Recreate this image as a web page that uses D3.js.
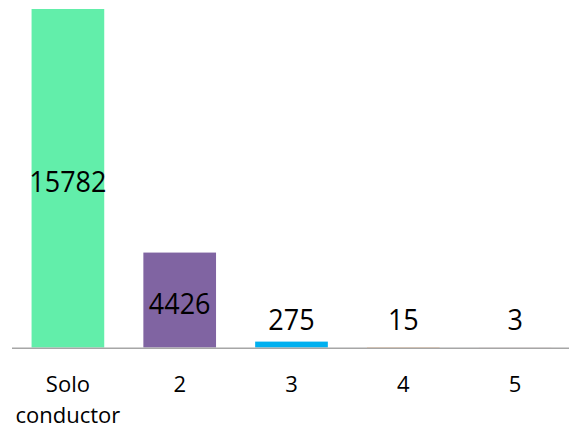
<!DOCTYPE html>
<html><head><meta charset="utf-8">
<script src="https://cdn.jsdelivr.net/npm/d3@7"></script>
<style>body{margin:0;background:#fff;}svg{display:block;}</style>
</head><body>
<svg id="c" width="569" height="432"></svg>
<script>
const categories = ["Solo\nconductor", "2", "3", "4", "5"];
const values = [15782, 4426, 275, 15, 3];
const colors = ["#62EEAA", "#8064A2", "#00B0F0", "#F79646", "#C0504D"];

const svg = d3.select("#c");
const baseY = 347.5, topY = 9;
const x = d3.scaleBand().domain(categories).range([12, 571]).paddingInner(0.35).paddingOuter(0.175);
const y = d3.scaleLinear().domain([0, 15782]).range([baseY, topY]);

svg.selectAll("rect.bar").data(values).join("rect")
  .attr("class", "bar")
  .attr("x", (d, i) => x(categories[i]))
  .attr("width", x.bandwidth())
  .attr("y", d => y(d))
  .attr("height", d => baseY - y(d))
  .attr("fill", (d, i) => colors[i]);

// axis line
svg.append("line").attr("x1", 12).attr("x2", 569).attr("y1", baseY + 0.75).attr("y2", baseY + 0.75)
  .attr("stroke", "#A6A6A6").attr("stroke-width", 1.5);

// value labels
svg.selectAll("text.val").data(values).join("text")
  .attr("class", "val")
  .attr("transform", (d, i) => {
    const cx = x(categories[i]) + x.bandwidth() / 2;
    const cy = Math.min((y(d) + baseY) / 2 + 2.5, baseY - 29);
    return `translate(${cx},${cy}) scale(0.93,1)`;
  })
  .attr("text-anchor", "middle")
  .attr("dominant-baseline", "central")
  .attr("font-family", "Open Sans, sans-serif")
  .attr("font-size", 29)
  .attr("fill", "#000")
  .text(d => d);

// category labels
const cl = svg.selectAll("text.cat").data(categories).join("text")
  .attr("class", "cat")
  .attr("x", d => x(d) + x.bandwidth() / 2)
  .attr("y", 392)
  .attr("text-anchor", "middle")
  .attr("font-family", "Open Sans, sans-serif")
  .attr("font-size", 22)
  .attr("fill", "#000");
cl.each(function(d) {
  const lines = d.split("\n");
  const t = d3.select(this);
  lines.forEach((l, j) => {
    t.append("tspan").attr("x", t.attr("x")).attr("dy", j === 0 ? 0 : 31).text(l);
  });
});
</script>
</body></html>
